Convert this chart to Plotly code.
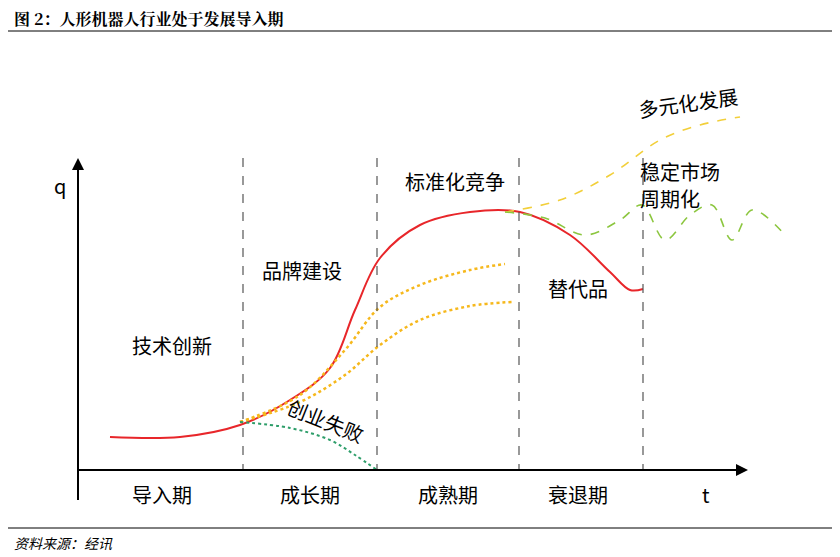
import plotly.graph_objects as go

# curve sketches in image pixel space (x right, y down)
red_x = [110, 180, 240, 290, 330, 355, 380, 420, 470, 520, 570, 610, 630, 643]
red_y = [437, 437, 425, 400, 368, 310, 258, 225, 212, 212, 235, 272, 290, 289]
up_x = [240, 300, 345, 380, 420, 470, 505]
up_y = [422, 395, 350, 307, 285, 270, 264]
low_x = [240, 300, 345, 380, 420, 470, 512]
low_y = [422, 402, 375, 345, 320, 306, 302]
fail_x = [240, 290, 330, 355, 377]
fail_y = [422, 428, 440, 455, 470]
div_x = [505, 560, 610, 660, 700, 740]
div_y = [212, 200, 175, 140, 125, 117]
cyc_x = [505, 545, 585, 620, 642, 665, 690, 712, 732, 752, 785]
cyc_y = [212, 218, 235, 220, 205, 240, 215, 205, 240, 210, 235]
phase_x = [243, 377, 519, 643]
stages = ["导入期", "成长期", "成熟期", "衰退期"]
stage_x = [162, 310, 448, 578]

fig = go.Figure()
fig.add_trace(go.Scatter(x=red_x, y=red_y, mode="lines", line=dict(color="#e8262a", width=2, shape="spline")))
for xs, ys in [(up_x, up_y), (low_x, low_y)]:
    fig.add_trace(go.Scatter(x=xs, y=ys, mode="lines", line=dict(color="#f6b81c", width=2.5, dash="dot", shape="spline")))
fig.add_trace(go.Scatter(x=fail_x, y=fail_y, mode="lines", line=dict(color="#2e9e6a", width=2, dash="dot", shape="spline")))
fig.add_trace(go.Scatter(x=div_x, y=div_y, mode="lines", line=dict(color="#f2cf3a", width=1.6, dash="dash", shape="spline")))
fig.add_trace(go.Scatter(x=cyc_x, y=cyc_y, mode="lines", line=dict(color="#8cc63f", width=1.6, dash="dash", shape="spline")))

shapes = []
for px in phase_x:
    shapes.append(dict(type="line", x0=px, x1=px, y0=158, y1=470, line=dict(color="#555", width=1.2, dash="dash")))
shapes += [
    dict(type="line", x0=78, x1=740, y0=470, y1=470, line=dict(color="black", width=2)),
    dict(type="line", x0=78, x1=78, y0=500, y1=165, line=dict(color="black", width=2)),
    dict(type="line", x0=0, x1=840, y0=31, y1=31, line=dict(color="black", width=1)),
    dict(type="line", x0=0, x1=840, y0=528, y1=528, line=dict(color="black", width=1)),
]
fig.update_layout(shapes=shapes)

font = dict(family="Noto Sans CJK SC", size=20, color="black")
ann = [
    dict(x=748, y=470, ax=725, ay=470, axref="x", ayref="y", showarrow=True, arrowhead=2, arrowsize=1.2,
         arrowwidth=2, arrowcolor="black", text=""),
    dict(x=78, y=158, ax=78, ay=185, axref="x", ayref="y", showarrow=True, arrowhead=2, arrowsize=1.2,
         arrowwidth=2, arrowcolor="black", text=""),
    dict(x=60, y=185, text="q"), dict(x=706, y=494, text="t"),
    dict(x=172, y=345, text="技术创新"), dict(x=302, y=270, text="品牌建设"),
    dict(x=455, y=181, text="标准化竞争"), dict(x=578, y=288, text="替代品"),
    dict(x=688, y=102, text="多元化发展", textangle=-8),
    dict(x=680, y=171, text="稳定市场"), dict(x=670, y=198, text="周期化"),
    dict(x=326, y=420, text="创业失败", textangle=22),
]
for sx, s in zip(stage_x, stages):
    ann.append(dict(x=sx, y=494, text=s))
for a in ann:
    a.setdefault("showarrow", False)
    a.setdefault("font", font)
ann.append(dict(x=12, y=18, text="<b>图 2：人形机器人行业处于发展导入期</b>", showarrow=False, xanchor="left",
                font=dict(family="Noto Serif CJK SC, Noto Sans CJK SC", size=16, color="black")))
ann.append(dict(x=12, y=543, text="<i>资料来源：经讯</i>", showarrow=False, xanchor="left",
                font=dict(family="Noto Sans CJK SC", size=14, color="black")))
# page body adds an 8px offset; shift the pixel-space ranges to compensate
fig.update_layout(
    annotations=ann, width=840, height=557, showlegend=False,
    margin=dict(l=0, r=0, t=0, b=0), paper_bgcolor="white", plot_bgcolor="white",
    xaxis=dict(range=[8, 848], visible=False),
    yaxis=dict(range=[565, 8], visible=False),
)
fig.write_html("out.html")
